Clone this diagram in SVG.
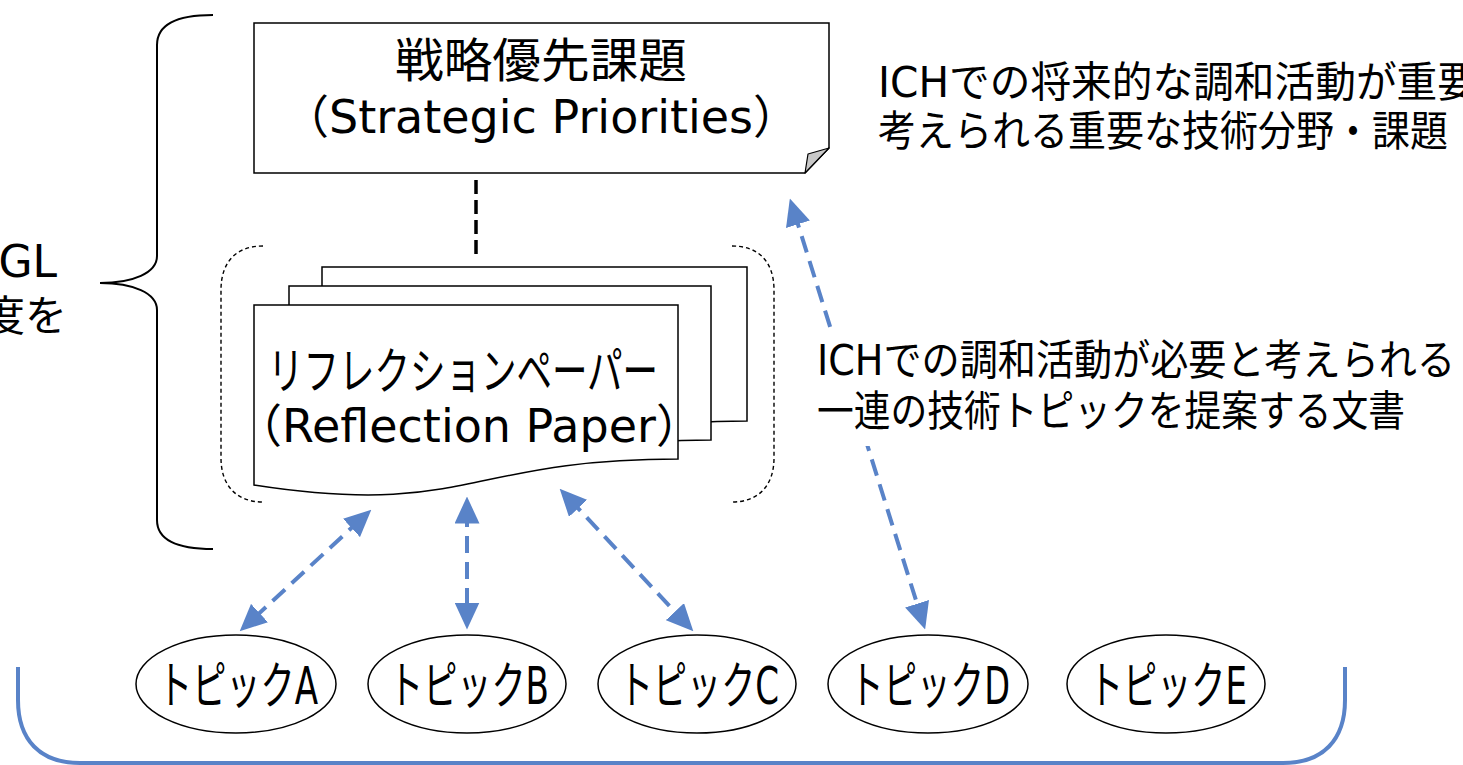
<svg xmlns="http://www.w3.org/2000/svg" width="1463" height="765" viewBox="0 0 1463 765">
<style>
  .t { font-family: "DejaVu Sans", "Noto Sans CJK JP", sans-serif; fill: #000; }
  .box { fill: #fff; stroke: #000; stroke-width: 1.5; }
  .brace { fill: none; stroke: #000; stroke-width: 2; }
  .dbr { fill: none; stroke: #000; stroke-width: 1.4; stroke-dasharray: 4 3; }
  .blue { fill: none; stroke: #5983C8; stroke-width: 4; stroke-dasharray: 17 9; }
  .topic { font-size: 51px; }
</style>
<defs>
  <marker id="ah" viewBox="0 0 27 25" refX="13.5" refY="12.5" markerWidth="27" markerHeight="25" markerUnits="userSpaceOnUse" orient="auto-start-reverse">
    <path d="M0,0 L27,12.5 L0,25 Z" fill="#5983C8"/>
  </marker>
</defs>
<rect width="1463" height="765" fill="#fff"/>

<g id="left-brace">
  <path class="brace" d="M213,15 C178,15 157,24 157,45 L157,256 C157,273 133,283 100,283 C133,283 157,293 157,310 L157,520 C157,540 178,549 213,549"/>
</g>

<g id="left-label">
  <text class="t" font-size="44" x="57" y="277" text-anchor="end">GL</text>
  <text class="t" font-size="42" x="67" y="331" text-anchor="end">度を</text>
</g>

<g id="strategic-priorities">
  <path class="box" d="M254,23 H829 V148 L805,173 H254 Z"/>
  <path d="M829,148 L808,154 L805,173 Z" fill="#c8c8c8" stroke="#000" stroke-width="1.2" stroke-linejoin="round"/>
  <text class="t" font-size="47" x="541" y="77" text-anchor="middle" textLength="292" lengthAdjust="spacingAndGlyphs">戦略優先課題</text>
  <text class="t" font-size="46" x="541" y="133" text-anchor="middle">（Strategic Priorities）</text>
</g>

<g id="strategic-note">
  <text class="t" font-size="42" x="878" y="97" textLength="600" lengthAdjust="spacingAndGlyphs">ICHでの将来的な調和活動が重要</text>
  <text class="t" font-size="42" x="878" y="146" textLength="570" lengthAdjust="spacingAndGlyphs">考えられる重要な技術分野・課題</text>
</g>

<g id="connectors">
  <line x1="476" y1="180" x2="476" y2="257" stroke="#000" stroke-width="3.5" stroke-dasharray="14 6"/>
  <line class="blue" x1="361.4" y1="518.8" x2="249.6" y2="622.2" marker-start="url(#ah)" marker-end="url(#ah)"/>
  <line class="blue" x1="467" y1="510" x2="467" y2="616" marker-start="url(#ah)" marker-end="url(#ah)"/>
  <line class="blue" x1="568.9" y1="498.5" x2="684.1" y2="621.5" marker-start="url(#ah)" marker-end="url(#ah)"/>
  <line class="blue" x1="793.9" y1="211.4" x2="921.1" y2="616.6" marker-start="url(#ah)" marker-end="url(#ah)"/>
</g>

<g id="reflection-paper">
  <path class="dbr" d="M263,246 C236,246 221,262 221,290 L221,458 C221,485 236,502 263,502"/>
  <path class="dbr" d="M732,246 C759,246 774,262 774,290 L774,458 C774,485 759,502 732,502"/>
  <path class="box" d="M322,267 H747 V421 C534,421 534,479 322,446 Z"/>
  <path class="box" d="M289,286 H711 V440 C500,440 500,498 289,465 Z"/>
  <path class="box" d="M254,305 H678 V459 C466,459 466,518 254,485 Z"/>
  <text class="t" font-size="50" x="463" y="389" text-anchor="middle" textLength="390" lengthAdjust="spacingAndGlyphs">リフレクションペーパー</text>
  <text class="t" font-size="46" x="469" y="442" text-anchor="middle">（Reflection Paper）</text>
</g>

<g id="reflection-note">
  <rect x="810" y="330" width="650" height="116" fill="#fff"/>
  <text class="t" font-size="42" x="817" y="375" textLength="638" lengthAdjust="spacingAndGlyphs">ICHでの調和活動が必要と考えられる</text>
  <text class="t" font-size="42" x="817" y="426" textLength="588" lengthAdjust="spacingAndGlyphs">一連の技術トピックを提案する文書</text>
</g>

<g id="topic-a">
  <ellipse class="box" cx="236" cy="684" rx="100" ry="49"/>
  <text class="t topic" x="238" y="704" text-anchor="middle" textLength="160" lengthAdjust="spacingAndGlyphs">トピックA</text>
</g>
<g id="topic-b">
  <ellipse class="box" cx="467" cy="684" rx="99" ry="49"/>
  <text class="t topic" x="469" y="704" text-anchor="middle" textLength="160" lengthAdjust="spacingAndGlyphs">トピックB</text>
</g>
<g id="topic-c">
  <ellipse class="box" cx="697" cy="684" rx="99" ry="49"/>
  <text class="t topic" x="699" y="704" text-anchor="middle" textLength="160" lengthAdjust="spacingAndGlyphs">トピックC</text>
</g>
<g id="topic-d">
  <ellipse class="box" cx="928" cy="684" rx="100" ry="49"/>
  <text class="t topic" x="930" y="704" text-anchor="middle" textLength="160" lengthAdjust="spacingAndGlyphs">トピックD</text>
</g>
<g id="topic-e">
  <ellipse class="box" cx="1166" cy="684" rx="99" ry="49"/>
  <text class="t topic" x="1168" y="704" text-anchor="middle" textLength="158" lengthAdjust="spacingAndGlyphs">トピックE</text>
</g>

<g id="topics-bracket">
  <path d="M18,667 L18,700 C18,740 40,763 80,763 L1283,763 C1323,763 1345,740 1345,700 L1345,667" fill="none" stroke="#5983C8" stroke-width="4"/>
</g>
</svg>
